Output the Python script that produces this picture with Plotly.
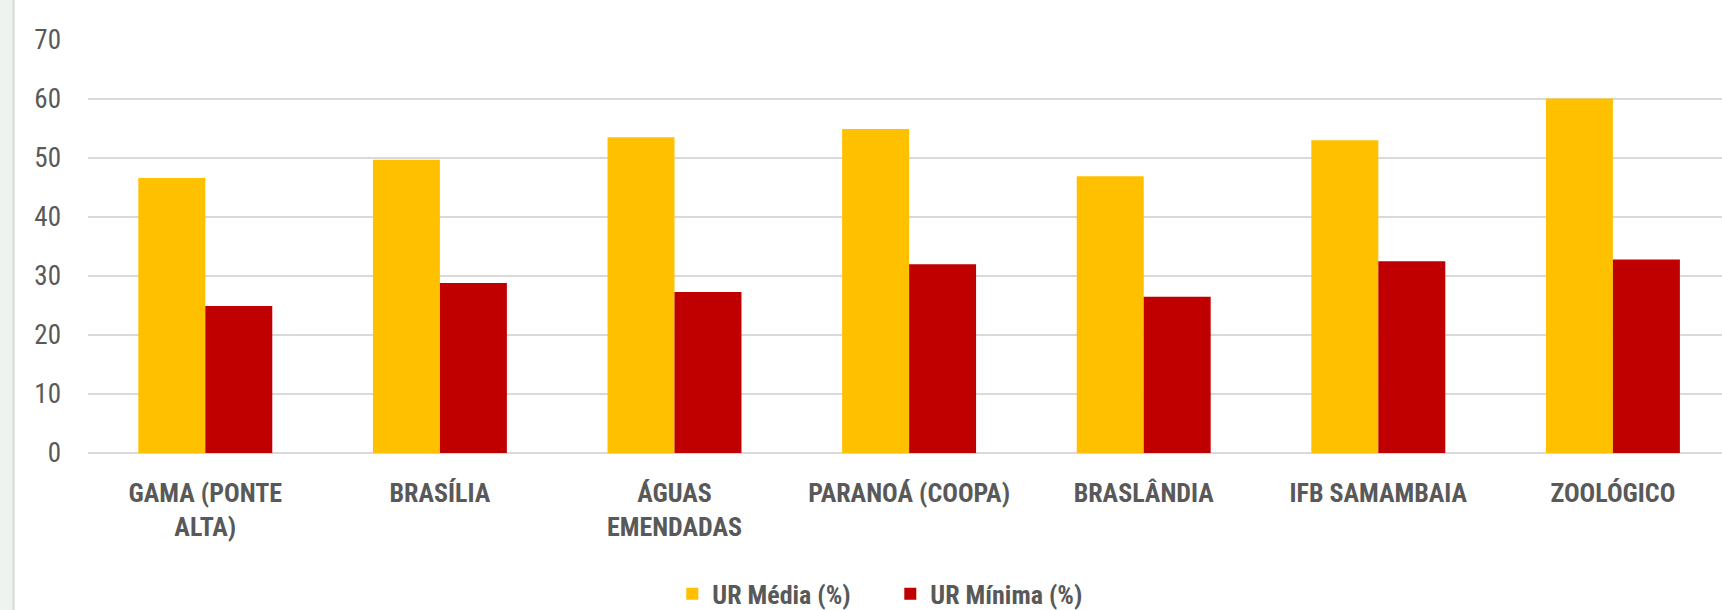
import plotly.graph_objects as go

categories = ["GAMA (PONTE<br>ALTA)", "BRASÍLIA", "ÁGUAS<br>EMENDADAS", "PARANOÁ (COOPA)",
              "BRASLÂNDIA", "IFB SAMAMBAIA", "ZOOLÓGICO"]
ur_media = [46.6, 49.7, 53.5, 54.9, 46.9, 53.0, 60.1]
ur_minima = [24.9, 28.8, 27.3, 32.0, 26.5, 32.5, 32.8]
y_ticks = [0, 10, 20, 30, 40, 50, 60, 70]

W, H = 1722, 610
L, B, T = 88, 157, 40

fig = go.Figure()
fig.add_trace(go.Bar(x=categories, y=ur_media, name="UR Média (%)",
                     marker=dict(color="#FFC000", line=dict(width=0))))
fig.add_trace(go.Bar(x=categories, y=ur_minima, name="UR Mínima (%)",
                     marker=dict(color="#C00000", line=dict(width=0))))

label_font = "Liberation Sans Narrow, Roboto Condensed, Arial Narrow, sans-serif"

fig.update_layout(
    width=W, height=H,
    margin=dict(l=L, r=0, t=T, b=B, pad=0, autoexpand=False),
    paper_bgcolor="white", plot_bgcolor="white",
    barmode="group", bargap=0.429, bargroupgap=0,
    showlegend=True,
    legend=dict(orientation="h", x=0.491, xanchor="center", y=-0.341, yanchor="middle",
                font=dict(family=label_font, size=26, color="#595959", weight="bold"),
                itemsizing="constant", traceorder="normal", itemwidth=30,
                entrywidth=173, entrywidthmode="pixels"),
    xaxis=dict(range=[-0.5, 6.465], showgrid=False, showline=False, zeroline=False,
               tickfont=dict(family=label_font, size=26, color="#595959", weight="bold"),
               ticks="", ticklabelstandoff=22, tickangle=0),
    yaxis=dict(range=[0, 70], tickvals=y_ticks, showgrid=True, gridcolor="#d9d9d9", gridwidth=1.5,
               zeroline=True, zerolinecolor="#d9d9d9", zerolinewidth=1.5, showline=False,
               tickfont=dict(family=label_font, size=27, color="#595959"),
               ticks="", ticklabelstandoff=26),
    shapes=[
        dict(type="rect", xref="paper", yref="paper",
             x0=-L / (W - L), x1=(13 - L) / (W - L), y0=-B / (H - T - B), y1=(H - B) / (H - T - B),
             fillcolor="#eef3ef", line=dict(width=0), layer="below"),
        dict(type="line", xref="paper", yref="paper",
             x0=(13.5 - L) / (W - L), x1=(13.5 - L) / (W - L), y0=-B / (H - T - B), y1=(H - B) / (H - T - B),
             line=dict(color="#d5d8d5", width=2), layer="below"),
    ],
)

fig.write_html("out.html", config={"displayModeBar": False},
               post_script="document.body.style.margin='0';document.body.style.overflow='hidden';")
